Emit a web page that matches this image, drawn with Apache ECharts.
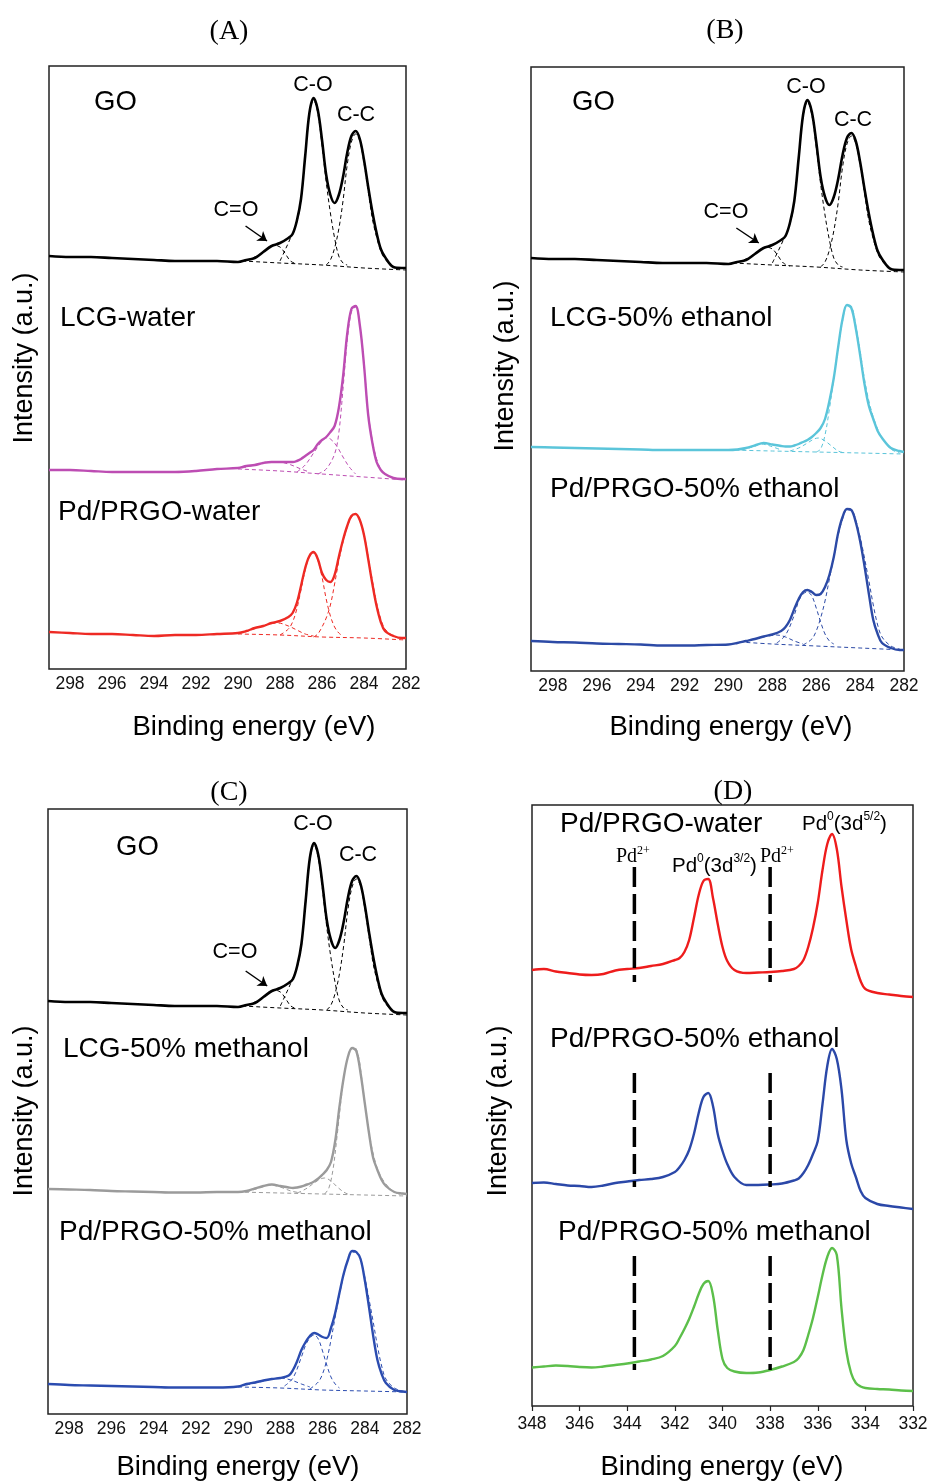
<!DOCTYPE html>
<html>
<head>
<meta charset="utf-8">
<script src="https://cdn.jsdelivr.net/npm/echarts@6.0.0/dist/echarts.min.js"></script>
<style>
html, body { margin: 0; padding: 0; background: #fff; }
#main { width: 931px; height: 1481px; }
</style>
</head>
<body>
<div id="main"></div>
<script>
// C 1s energy grid (eV) shared by the measured curves of panels A-C
var eC = [299, 298, 297, 296, 295, 294, 293, 292, 291, 290, 289.6, 289.2, 288.8, 288.4, 288.0, 287.6,
  287.4, 287.2, 287.0, 286.8, 286.6, 286.4, 286.2, 286.0, 285.8, 285.6, 285.4, 285.2, 285.0, 284.8, 284.6,
  284.4, 284.2, 284.0, 283.8, 283.6, 283.4, 283.2, 283.0, 282.6, 282.2, 282];

// measured curves (a.u., stacked offsets included)
var goC1s = [413, 412, 412, 411, 410, 409, 408, 408, 408, 407, 409, 411, 417, 423, 426, 431,
  435, 448, 470, 513, 556, 571, 559, 529, 494, 474, 466, 474, 492, 516, 533,
  538, 530, 509, 482, 457, 436, 420, 412, 402, 401, 401];
var lcgWater = [199, 199, 198, 197, 197, 197, 197, 198, 200, 201, 203, 204, 206, 207, 207, 207,
  207, 208, 210, 213, 216, 219, 225, 229, 232, 237, 243, 261, 292, 335, 360,
  363, 344, 304, 254, 226, 207, 199, 195, 191, 190, 190];
var pdWater = [37, 36, 35, 35, 34, 33, 34, 34, 35, 36, 38, 41, 43, 46, 48, 52,
  56, 66, 83, 101, 113, 117, 110, 96, 89, 87, 94, 112, 129, 143, 153,
  155, 149, 134, 110, 85, 63, 47, 38, 33, 31, 31];
var lcgEthanol = [224, 223.5, 223, 222.5, 222, 221.5, 221, 221, 221, 221, 221.5, 223, 225.5, 228, 226.5, 225,
  224.5, 224.5, 225.5, 227, 229, 231, 234, 238, 243, 252, 270, 293, 324, 352, 366,
  363, 343, 316, 287, 265, 252, 240, 233, 223, 220, 219];
var pdEthanol = [30, 29, 28.5, 27.5, 27, 26.5, 25.5, 25.5, 26, 26.5, 28, 30, 32, 34.5, 36.5, 40,
  44, 51, 62, 72, 79, 81, 79, 76, 77, 84, 96, 114, 138, 154, 162,
  161, 149, 130, 105, 77, 51, 37, 28, 23, 21, 21];
var lcgMethanol = [225, 224.5, 224, 223, 222.5, 222, 221.5, 221.5, 222, 222, 223, 225.5, 228, 229.5, 228, 226.5,
  226, 226.5, 227.5, 229, 230.5, 232.5, 235.5, 239.5, 244, 252, 273, 307, 336, 357, 366,
  363, 341, 311, 281, 256, 244, 234, 228, 222, 220.5, 220];
var pdMethanol = [30, 29, 28.5, 28, 27.5, 27, 26.5, 26.5, 26.5, 27.5, 30, 31.5, 33.5, 35, 36, 38.5,
  44, 53, 64, 72, 78, 81, 79.5, 77, 76, 86, 101, 121, 140, 154, 163,
  162, 155, 134, 107, 78, 54, 40, 31, 24, 22.5, 22];

// fitted components [eV, a.u.]: background, C=O, C-O, C-C
var goBg = [[289.8, 408], [288, 406], [286, 404], [284, 401], [282, 399]];
var goCdO = [[289.6, 409], [289.1, 413], [288.7, 419], [288.3, 424], [288.0, 422], [287.8, 417], [287.5, 408], [287.2, 405]];
var goCO = [[288.0, 408], [287.8, 417], [287.5, 431], [287.2, 447], [287.0, 469], [286.8, 512], [286.6, 555], [286.4, 569],
  [286.2, 556], [286.0, 524], [285.8, 487], [285.6, 456], [285.4, 431], [285.2, 413], [285.0, 406], [284.8, 404]];
var goCC = [[285.8, 404], [285.6, 409], [285.4, 421], [285.2, 440], [285.0, 468], [284.8, 504], [284.6, 527], [284.4, 535],
  [284.2, 528], [284.0, 506], [283.8, 478], [283.6, 450], [283.4, 432], [283.2, 418], [283.0, 410], [282.6, 402], [282.2, 400]];

var lcgwBg = [[290, 200], [288, 198], [286, 195], [284, 192], [282, 189]];
var lcgwCdO = [[289.8, 201], [289.2, 204], [288.6, 207], [288.1, 207], [287.6, 205], [287.0, 200], [286.6, 197]];
var lcgwCO = [[287.2, 197], [286.8, 204], [286.4, 216], [286.0, 228], [285.8, 231], [285.6, 230], [285.3, 223],
  [285.0, 212], [284.7, 202], [284.4, 195]];
var lcgwCC = [[286.2, 195], [285.8, 200], [285.4, 215], [285.2, 236], [285.0, 280], [284.8, 328], [284.6, 357], [284.4, 362],
  [284.2, 345], [284.0, 305], [283.8, 256], [283.6, 228], [283.4, 210], [283.2, 200], [283.0, 195], [282.6, 191], [282.2, 190]];

var pdwBg = [[290, 35], [288, 34], [286, 32], [284, 31], [282, 29]];
var pdwCdO = [[290, 36], [289.5, 38], [289, 42], [288.5, 45], [288.1, 46], [287.6, 43], [287.2, 39], [286.8, 35], [286.4, 33]];
var pdwCO = [[288.0, 34], [287.6, 40], [287.4, 47], [287.2, 60], [287.0, 79], [286.8, 99], [286.6, 112], [286.4, 116],
  [286.2, 109], [286.0, 92], [285.8, 70], [285.6, 53], [285.4, 42], [285.2, 36], [285.0, 33]];
var pdwCC = [[286.4, 32], [286.2, 35], [286.0, 42], [285.8, 51], [285.6, 64], [285.4, 85], [285.2, 108], [285.0, 127],
  [284.8, 142], [284.6, 152], [284.4, 155], [284.2, 149], [284.0, 135], [283.8, 112], [283.6, 88], [283.4, 66],
  [283.2, 50], [283.0, 40], [282.6, 33], [282.2, 30]];

var lcgeBg = [[290, 221], [288, 220], [286, 219], [284, 218], [282, 217]];
var lcgeCdO = [[289.4, 221], [288.9, 224], [288.5, 227], [288.1, 225], [287.6, 221]];
var lcgeCO = [[287.2, 220], [286.8, 223], [286.4, 228], [286.1, 232], [285.9, 233], [285.6, 230], [285.3, 225], [285.0, 220], [284.7, 218]];
var lcgeCC = [[286.0, 219], [285.8, 222], [285.6, 236], [285.4, 262], [285.2, 292], [285.0, 322], [284.8, 350], [284.6, 366],
  [284.4, 365], [284.2, 346], [284.0, 320], [283.8, 292], [283.6, 270], [283.4, 254], [283.2, 242], [283.0, 233], [282.6, 222], [282.2, 218]];

var pdeBg = [[289.5, 29], [288, 27], [286, 25], [284, 23], [282, 21]];
var pdeCdO = [[289.4, 29], [288.8, 32], [288.2, 35], [287.8, 36], [287.4, 34], [287.0, 30], [286.6, 27]];
var pdeCO = [[287.8, 28], [287.4, 36], [287.0, 56], [286.8, 70], [286.6, 77], [286.4, 79], [286.2, 75], [286.0, 63],
  [285.8, 49], [285.6, 37], [285.4, 30], [285.2, 27]];
var pdeCC = [[286.6, 26], [286.2, 32], [286.0, 40], [285.8, 53], [285.6, 70], [285.4, 92], [285.2, 114], [285.0, 136],
  [284.8, 152], [284.6, 161], [284.4, 161], [284.2, 151], [284.0, 134], [283.8, 113], [283.6, 90], [283.4, 66],
  [283.2, 46], [283.0, 34], [282.6, 25], [282.2, 22]];

var lcgmBg = [[290, 222], [288, 221], [286, 220], [284, 219], [282, 218]];
var lcgmCdO = [[289.6, 222], [289.0, 226], [288.5, 229], [288.0, 227], [287.5, 223], [287.0, 221]];
var lcgmCO = [[287.2, 221], [286.8, 225], [286.4, 231], [286.1, 235], [285.9, 236], [285.6, 233], [285.3, 227], [285.0, 222], [284.7, 219]];
var lcgmCC = [[285.9, 220], [285.7, 226], [285.5, 245], [285.3, 280], [285.1, 318], [284.9, 348], [284.7, 363], [284.5, 367],
  [284.3, 358], [284.1, 328], [283.9, 297], [283.7, 270], [283.5, 252], [283.3, 240], [283.0, 230], [282.6, 222], [282.2, 219]];

var pdmBg = [[290, 27], [288, 26], [286, 24], [284, 23], [282, 22]];
var pdmCdO = [[289.6, 29], [289.0, 32], [288.4, 35], [288.0, 36], [287.5, 34], [287.0, 30], [286.6, 27]];
var pdmCO = [[287.8, 28], [287.4, 36], [287.0, 57], [286.8, 69], [286.6, 76], [286.4, 79], [286.2, 75], [286.0, 63],
  [285.8, 49], [285.6, 37], [285.4, 30], [285.2, 26]];
var pdmCC = [[286.6, 25], [286.2, 32], [286.0, 40], [285.8, 54], [285.6, 74], [285.4, 97], [285.2, 119], [285.0, 139],
  [284.8, 154], [284.6, 162], [284.4, 162], [284.2, 155], [284.0, 137], [283.8, 115], [283.6, 92], [283.4, 68],
  [283.2, 48], [283.0, 35], [282.6, 26], [282.2, 23]];

// Pd 3d energy grid (eV) and curves of panel D
var eD = [348, 347.5, 347, 346.5, 346, 345.5, 345, 344.5, 344, 343.5, 343, 342.5, 342,
  341.8, 341.6, 341.4, 341.2, 341.0, 340.8, 340.6, 340.4, 340.2, 340.0, 339.8,
  339.5, 339, 338.5, 338, 337.5, 337,
  336.8, 336.6, 336.4, 336.2, 336.0, 335.8, 335.6, 335.4, 335.2, 335.0, 334.8, 334.6, 334.4, 334.2, 334.0,
  333.5, 333, 332.5, 332];
var pd3dWater = [436, 437, 434.5, 433, 431.5, 431, 432, 435.5, 437, 438, 440, 442, 446,
  448, 454, 466, 488, 511, 525, 527, 508, 482, 459, 445,
  436, 433, 433.5, 434, 435, 437,
  440, 446, 459, 478, 503, 536, 562, 572, 557, 519, 486, 457, 440, 425, 417,
  413, 411.5, 410, 409];
var pd3dEthanol = [223, 223.5, 222, 220.5, 220, 219, 220.5, 223, 224.5, 226, 227, 229, 234,
  239, 246, 256, 272, 293, 309, 313, 300, 272, 255, 242,
  229, 221, 221, 221.5, 222.5, 225.5,
  227.5, 233, 241, 252, 265, 302, 340, 357, 347, 316, 266, 243, 229, 215, 208,
  202, 200, 198.5, 197];
var pd3dMethanol = [38.5, 39.5, 40.5, 40, 39, 38.5, 39.5, 41, 42.5, 44.5, 46.5, 50, 60,
  68, 77, 87, 99, 112, 122, 125, 111, 76, 47, 38,
  34.5, 33, 33.5, 36, 39.5, 44,
  48, 56, 71, 88, 109, 131, 149, 158, 151, 97, 55, 33, 23, 19.5, 18,
  17, 16.5, 15.5, 15];

// Pd2+ reference positions (eV)
var pd2Lines = [343.7, 338.0];

var FONT = '"Liberation Sans", Arial, sans-serif';
var SERIF = '"Liberation Serif", "Times New Roman", serif';

var chart = echarts.init(document.getElementById('main'));

var gridBoxes = [
  { left: 49, top: 66, width: 357, height: 603 },
  { left: 531, top: 67, width: 373, height: 604 },
  { left: 48, top: 809, width: 359, height: 605 },
  { left: 532, top: 805, width: 381, height: 601 }
];

function pairs(xs, ys) {
  return xs.map(function (x, i) { return [x, ys[i]]; });
}

function curve(g, xs, ys, color, width) {
  return {
    type: 'line', xAxisIndex: g, yAxisIndex: g,
    data: pairs(xs, ys), showSymbol: false, smooth: 0.35,
    lineStyle: { color: color, width: width || 2.4 }, z: 4, silent: true
  };
}

function fit(g, data, color) {
  return {
    type: 'line', xAxisIndex: g, yAxisIndex: g,
    data: data, showSymbol: false, smooth: 0.35,
    lineStyle: { color: color, width: 1, type: [4, 3] }, z: 3, silent: true
  };
}

function fitSet(g, list, color) {
  return list.map(function (d) { return fit(g, d, color); });
}

function goCurve(g) {
  var s = curve(g, eC, goC1s, '#000', 2.6);
  s.markLine = {
    silent: true, symbol: ['none', 'arrow'], symbolSize: 9,
    lineStyle: { color: '#000', width: 1.5, type: 'solid' },
    label: { show: false },
    data: [[{ coord: [289.64, 443] }, { coord: [288.62, 428] }]]
  };
  return s;
}

var series = [];
// (A)
series = series.concat(fitSet(0, [goBg, goCdO, goCO, goCC], '#000'));
series = series.concat(fitSet(0, [lcgwBg, lcgwCdO, lcgwCO, lcgwCC], '#bd4db3'));
series = series.concat(fitSet(0, [pdwBg, pdwCdO, pdwCO, pdwCC], '#ee2a24'));
series.push(goCurve(0));
series.push(curve(0, eC, lcgWater, '#bd4db3'));
series.push(curve(0, eC, pdWater, '#ee2a24'));
// (B)
series = series.concat(fitSet(1, [goBg, goCdO, goCO, goCC], '#000'));
series = series.concat(fitSet(1, [lcgeBg, lcgeCdO, lcgeCO, lcgeCC], '#5bc5da'));
series = series.concat(fitSet(1, [pdeBg, pdeCdO, pdeCO, pdeCC], '#2c4aa6'));
series.push(goCurve(1));
series.push(curve(1, eC, lcgEthanol, '#5bc5da'));
series.push(curve(1, eC, pdEthanol, '#2c4aa6'));
// (C)
series = series.concat(fitSet(2, [goBg, goCdO, goCO, goCC], '#000'));
series = series.concat(fitSet(2, [lcgmBg, lcgmCdO, lcgmCO, lcgmCC], '#9b9b9b'));
series = series.concat(fitSet(2, [pdmBg, pdmCdO, pdmCO, pdmCC], '#2b4cb0'));
series.push(goCurve(2));
series.push(curve(2, eC, lcgMethanol, '#9b9b9b'));
series.push(curve(2, eC, pdMethanol, '#2b4cb0'));
// (D)
series.push(curve(3, eD, pd3dWater, '#ee1c1c', 2.4));
series.push(curve(3, eD, pd3dEthanol, '#2b48a8', 2.4));
series.push(curve(3, eD, pd3dMethanol, '#5cbf4a', 2.4));
// dashed Pd2+ markers, one segment per spectrum
[[539, 424], [333, 219], [150, 36]].forEach(function (seg) {
  pd2Lines.forEach(function (e) {
    series.push({
      type: 'line', xAxisIndex: 3, yAxisIndex: 3, silent: true,
      data: [[e, seg[0]], [e, seg[1]]], showSymbol: false,
      lineStyle: { color: '#000', width: 3.5, type: [20, 7] }, z: 5
    });
  });
});

function xAxis(g, min, max, ticks) {
  return {
    gridIndex: g, type: 'value', min: min, max: max, interval: 2, inverse: true,
    axisLine: { show: false },
    axisTick: { show: ticks, length: 5, lineStyle: { color: '#222', width: 1.2 } },
    splitLine: { show: false },
    axisLabel: {
      fontSize: 17.5, color: '#111', fontFamily: FONT, margin: ticks ? 9 : 6,
      formatter: function (v) { return v % 2 === 0 ? String(v) : ''; }
    }
  };
}

function yAxis(g, h) {
  return { gridIndex: g, type: 'value', min: 0, max: h, show: false };
}

function txt(x, y, text, size, align, extra) {
  var st = {
    text: text, x: 0, y: 0, fill: '#000', fontSize: size, fontFamily: FONT,
    align: align || 'left', verticalAlign: 'middle',
    textAlign: align || 'left', textVerticalAlign: 'middle'
  };
  if (extra) { for (var k in extra) { st[k] = extra[k]; } }
  return { type: 'text', x: x, y: y, silent: true, style: st };
}

function vtxt(x, y, text) {
  var t = txt(x, y, text, 27, 'center');
  t.rotation = Math.PI / 2;
  return t;
}

function pdLabel(x, y, sup1, sup2) {
  return txt(x, y, '{m|Pd}{s|' + sup1 + '}{m|(3d}{s|' + sup2 + '}{m|)}', 20, 'left', {
    rich: {
      m: { fontSize: 20.5, fontFamily: FONT, fill: '#000', lineHeight: 26 },
      s: { fontSize: 12, fontFamily: FONT, fill: '#000', lineHeight: 12, verticalAlign: 'top' }
    }
  });
}

function pd2Label(x, y) {
  return txt(x, y, '{m|Pd}{s|2+}', 20, 'left', {
    rich: {
      m: { fontSize: 20, fontFamily: SERIF, fill: '#000', lineHeight: 24 },
      s: { fontSize: 12, fontFamily: SERIF, fill: '#000', lineHeight: 12, verticalAlign: 'top' }
    }
  });
}

var graphics = [
  // panel titles
  txt(229, 32, '(A)', 28, 'center', { fontFamily: SERIF }),
  txt(725, 31, '(B)', 28, 'center', { fontFamily: SERIF }),
  txt(229, 793, '(C)', 28, 'center', { fontFamily: SERIF }),
  txt(733, 792, '(D)', 28, 'center', { fontFamily: SERIF }),
  // axis titles
  txt(254, 727, 'Binding energy (eV)', 27.5, 'center'),
  txt(731, 727, 'Binding energy (eV)', 27.5, 'center'),
  txt(238, 1467, 'Binding energy (eV)', 27.5, 'center'),
  txt(722, 1467, 'Binding energy (eV)', 27.5, 'center'),
  vtxt(25, 358, 'Intensity (a.u.)'),
  vtxt(506, 366, 'Intensity (a.u.)'),
  vtxt(25, 1111, 'Intensity (a.u.)'),
  vtxt(499, 1111, 'Intensity (a.u.)'),
  // (A)
  txt(94, 102, 'GO', 27.5),
  txt(313, 85, 'C-O', 21.5, 'center'),
  txt(356, 115, 'C-C', 21.5, 'center'),
  txt(236, 210, 'C=O', 21.5, 'center'),
  txt(60, 318, 'LCG-water', 28),
  txt(58, 512, 'Pd/PRGO-water', 28),
  // (B)
  txt(572, 102, 'GO', 27.5),
  txt(806, 87, 'C-O', 21.5, 'center'),
  txt(853, 120, 'C-C', 21.5, 'center'),
  txt(726, 212, 'C=O', 21.5, 'center'),
  txt(550, 318, 'LCG-50% ethanol', 28),
  txt(550, 489, 'Pd/PRGO-50% ethanol', 28),
  // (C)
  txt(116, 847, 'GO', 27.5),
  txt(313, 824, 'C-O', 21.5, 'center'),
  txt(358, 855, 'C-C', 21.5, 'center'),
  txt(235, 952, 'C=O', 21.5, 'center'),
  txt(63, 1049, 'LCG-50% methanol', 28),
  txt(59, 1232, 'Pd/PRGO-50% methanol', 28),
  // (D)
  txt(560, 824, 'Pd/PRGO-water', 28),
  txt(550, 1039, 'Pd/PRGO-50% ethanol', 28),
  txt(558, 1232, 'Pd/PRGO-50% methanol', 28),
  pdLabel(802, 824, '0', '5/2'),
  pdLabel(672, 866, '0', '3/2'),
  pd2Label(616, 857),
  pd2Label(760, 857)
];

var option = {
  animation: false,
  backgroundColor: '#fff',
  textStyle: { fontFamily: FONT },
  grid: gridBoxes.map(function (b) {
    return {
      left: b.left, top: b.top, width: b.width, height: b.height,
      show: true, borderColor: '#222', borderWidth: 1.5, backgroundColor: 'transparent'
    };
  }),
  xAxis: [xAxis(0, 282, 299, false), xAxis(1, 282, 299, false), xAxis(2, 282, 299, false), xAxis(3, 332, 348, true)],
  yAxis: [yAxis(0, 603), yAxis(1, 604), yAxis(2, 605), yAxis(3, 601)],
  series: series,
  graphic: { elements: graphics }
};

chart.setOption(option);
</script>
</body>
</html>
